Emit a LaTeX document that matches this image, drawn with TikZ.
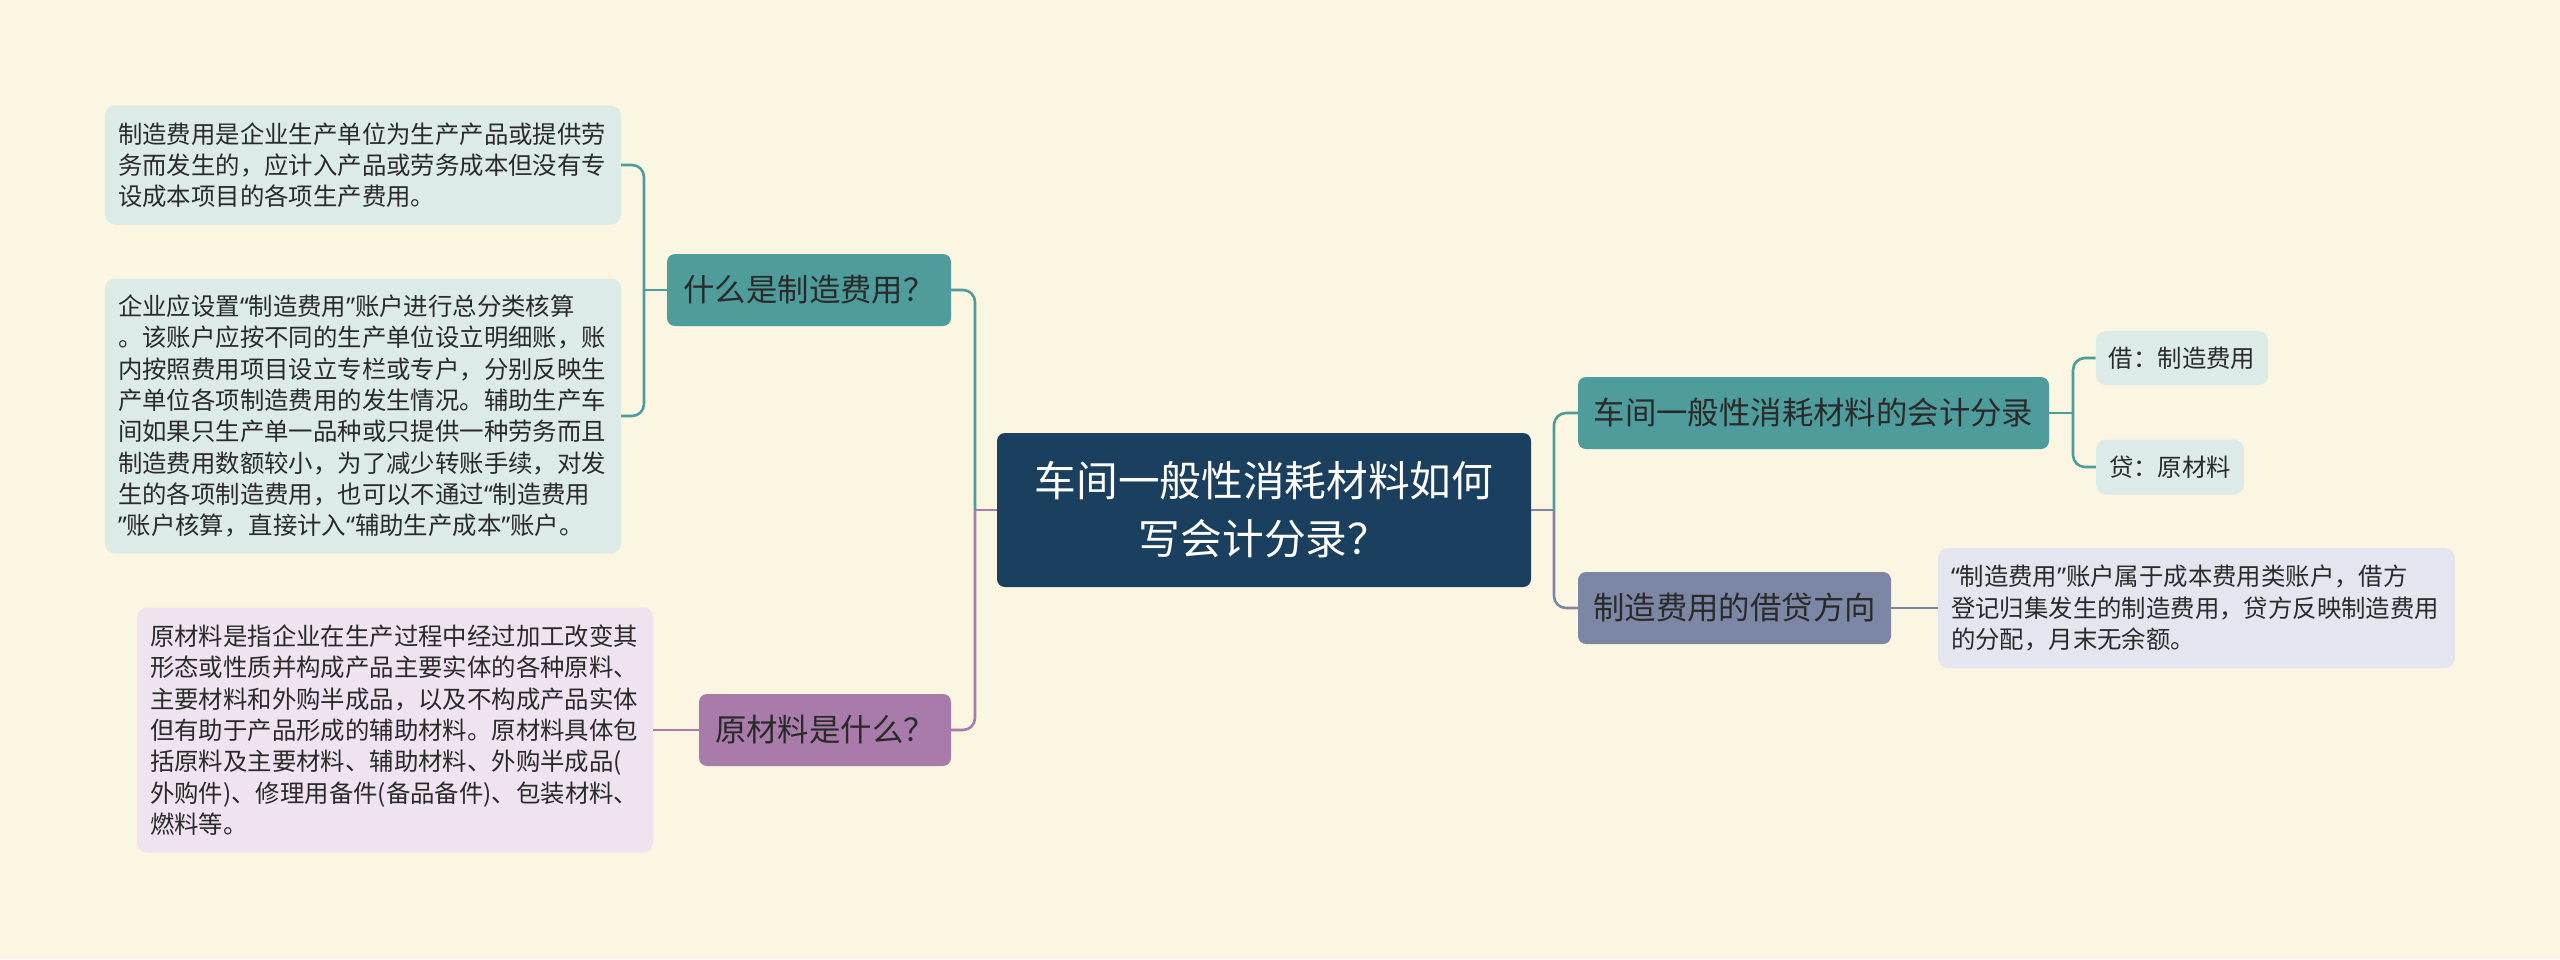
\documentclass[tikz,border=0pt]{standalone}
\usepackage{fontspec}
\newfontfamily\cjk{Noto Sans CJK SC}
\newfontfamily\qfont{Noto Sans}
\newcommand{\qopen}{{\qfont “}}
\newcommand{\qclose}{{\qfont ”}}
\definecolor{bgcream}{HTML}{FBF6E1}
\definecolor{rootnavy}{HTML}{1B3F5F}
\definecolor{topicteal}{HTML}{4E9C9B}
\definecolor{topicpurple}{HTML}{A97BAA}
\definecolor{topicslate}{HTML}{7C87A6}
\definecolor{leafteal}{HTML}{DCEBE8}
\definecolor{leafpurple}{HTML}{EEE3EE}
\definecolor{leafslate}{HTML}{E3E6EE}
\definecolor{inkdark}{HTML}{2A2A2A}

\begin{document}
\begin{tikzpicture}[x=1pt, y=-1pt,
  rootbox/.style={rectangle, rounded corners=8, fill=rootnavy, text=white,
    minimum width=534, minimum height=154, align=center,
    font=\cjk\fontsize{41.7}{58}\selectfont},
  topicbox/.style={rectangle, rounded corners=8, minimum height=72,
    text=inkdark, font=\cjk\fontsize{31.4}{36}\selectfont},
  notebox/.style={rectangle, rounded corners=10, inner xsep=13, inner ysep=0,
    align=left, text=inkdark, font=\cjk\fontsize{24.4}{31.3}\selectfont},
  link/.style={line width=2.6, rounded corners=12}]

  % background and page size (pixels of the reference)
  \fill[bgcream] (0,0) rectangle (2560,959);
  \useasboundingbox (0,0) rectangle (2560,959);

  % Junctions of the branches
  \coordinate (jl) at (975,510);  % left of root
  \coordinate (jr) at (1554,510); % right of root
  \coordinate (jq) at (644,290);  % left of first question
  \coordinate (jd) at (2073,413); % right of the entry node

  % Root
  \node[rootbox] (root) at (1264,510) {车间一般性消耗材料如何\\写会计分录？};

  % Left topics
  \node[topicbox, fill=topicteal, minimum width=284] (q1) at (809,290) {什么是制造费用？};
  \node[topicbox, fill=topicpurple, minimum width=252] (q2) at (825,730) {原材料是什么？};

  % Right topics
  \node[topicbox, fill=topicteal, minimum width=471] (r1) at (1813.5,413) {车间一般性消耗材料的会计分录};
  \node[topicbox, fill=topicslate, minimum width=313] (r2) at (1734.5,608) {制造费用的借贷方向};

  % Notes on the left
  \node[notebox, fill=leafteal, text width=490, minimum height=119] (def1) at (363,165)
    {制造费用是企业生产单位为生产产品或提供劳\\务而发生的，应计入产品或劳务成本但没有专\\设成本项目的各项生产费用。};
  \node[notebox, fill=leafteal, text width=490, minimum height=275] (def2) at (363,416)
    {企业应设置\qopen 制造费用\qclose 账户进行总分类核算\\。该账户应按不同的生产单位设立明细账，账\\内按照费用项目设立专栏或专户，分别反映生\\产单位各项制造费用的发生情况。辅助生产车\\间如果只生产单一品种或只提供一种劳务而且\\制造费用数额较小，为了减少转账手续，对发\\生的各项制造费用，也可以不通过\qopen 制造费用\\\qclose 账户核算，直接计入\qopen 辅助生产成本\qclose 账户。};
  \node[notebox, fill=leafpurple, text width=490, minimum height=245] (mat) at (395,730)
    {原材料是指企业在生产过程中经过加工改变其\\形态或性质并构成产品主要实体的各种原料、\\主要材料和外购半成品，以及不构成产品实体\\但有助于产品形成的辅助材料。原材料具体包\\括原料及主要材料、辅助材料、外购半成品(\\外购件)、修理用备件(备品备件)、包装材料、\\燃料等。};

  % Notes on the right
  \node[notebox, fill=leafteal, minimum width=170, minimum height=54] (debit) at (2182,358) {借：制造费用};
  \node[notebox, fill=leafteal, minimum width=146, minimum height=55] (credit) at (2170,467) {贷：原材料};
  \node[notebox, fill=leafslate, text width=491, minimum height=120] (dir) at (2196.5,608)
    {\qopen 制造费用\qclose 账户属于成本费用类账户，借方\\登记归集发生的制造费用，贷方反映制造费用\\的分配，月末无余额。};

  % Connectors, left side
  \draw[link, topicpurple] (root.west) -- (jl);
  \draw[link, topicteal] (jl) |- (q1.east);
  \draw[link, topicpurple] (jl) |- (q2.east);
  \draw[link, topicteal] (q1.west) -- (jq);
  \draw[link, topicteal] (jq) |- (def1.east);
  \draw[link, topicteal] (jq) |- (def2.east);
  \draw[link, topicpurple] (mat.east) -- (q2.west);

  % Connectors, right side
  \draw[link, topicslate] (root.east) -- (jr);
  \draw[link, topicteal] (jr) |- (r1.west);
  \draw[link, topicslate] (jr) |- (r2.west);
  \draw[link, topicteal] (r1.east) -- (jd);
  \draw[link, topicteal] (jd) |- (debit.west);
  \draw[link, topicteal] (jd) |- (credit.west);
  \draw[link, topicslate] (r2.east) -- (dir.west);
\end{tikzpicture}
\end{document}
